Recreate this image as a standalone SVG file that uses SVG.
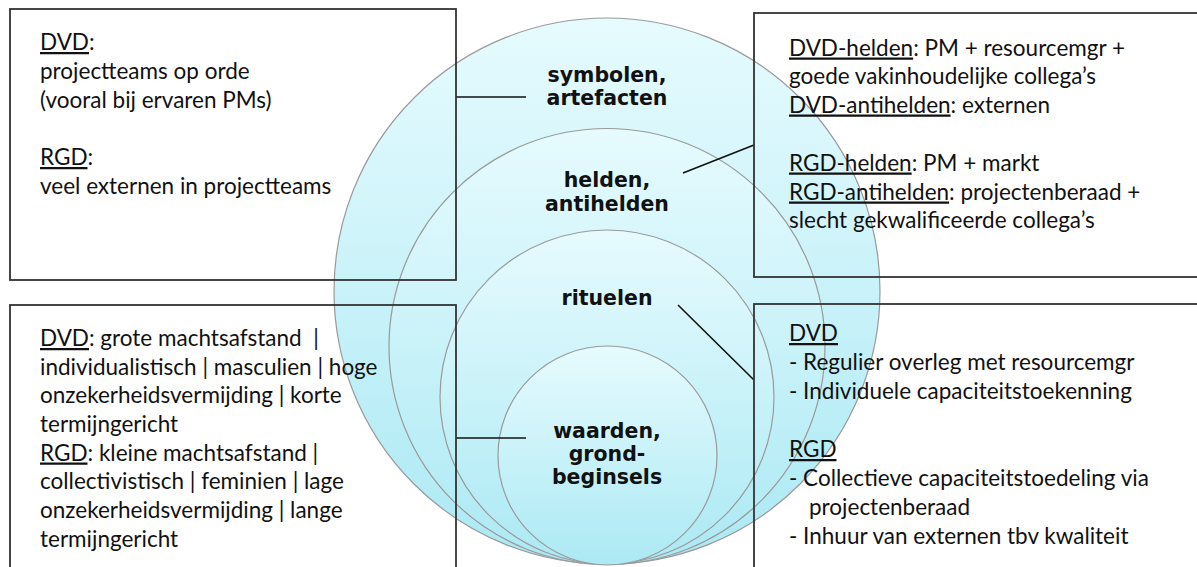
<svg xmlns="http://www.w3.org/2000/svg" width="1197" height="567" viewBox="0 0 1197 567">
<defs>
<linearGradient id="cg" x1="0" y1="0" x2="0" y2="1">
<stop offset="0" stop-color="#e6fbfe"/>
<stop offset="1" stop-color="#ace9f4"/>
</linearGradient>
<style>
.circ{fill:url(#cg);stroke:#9a9a9a;stroke-width:1.2}
.box{fill:none;stroke:#333;stroke-width:1.8}
.lbl{font-family:"DejaVu Sans",sans-serif;font-weight:bold;font-size:20.5px;fill:#111;text-anchor:middle}
.txt{font-family:Lato,"Liberation Sans",sans-serif;font-size:22.5px;fill:#111;white-space:pre}
.u{text-decoration:underline}
.conn line{stroke:#111;stroke-width:1.6}
</style>
</defs>
<rect width="1197" height="567" fill="#fff"/>
<g id="circles">
<circle class="circ" cx="607" cy="291" r="273"/>
<circle class="circ" cx="607" cy="346.5" r="218"/>
<circle class="circ" cx="607" cy="397" r="167"/>
<circle class="circ" cx="607.5" cy="455.5" r="109.5"/>
</g>
<g id="lbl-symbolen"><text class="lbl" x="607" y="82">symbolen,</text><text class="lbl" x="607" y="105">artefacten</text></g>
<g id="lbl-helden"><text class="lbl" x="607" y="187">helden,</text><text class="lbl" x="607" y="211">antihelden</text></g>
<g id="lbl-rituelen"><text class="lbl" x="607" y="305">rituelen</text></g>
<g id="lbl-waarden"><text class="lbl" x="607" y="438">waarden,</text><text class="lbl" x="607" y="461">grond-</text><text class="lbl" x="607" y="484">beginsels</text></g>
<g class="conn" id="connectors">
<line x1="456" y1="97" x2="526" y2="97"/>
<line x1="683" y1="173" x2="754" y2="145"/>
<line x1="678" y1="305" x2="754" y2="380"/>
<line x1="456" y1="438" x2="526" y2="438"/>
</g>
<g id="box-tl">
<rect class="box" x="10" y="9" width="446" height="271"/>
<text class="txt" x="40" y="50"><tspan class="u">DVD</tspan>:</text>
<text class="txt" x="40" y="79">projectteams op orde</text>
<text class="txt" x="40" y="107.5">(vooral bij ervaren PMs)</text>
<text class="txt" x="40" y="165"><tspan class="u">RGD</tspan>:</text>
<text class="txt" x="40" y="193.5">veel externen in projectteams</text>
</g>
<g id="box-tr">
<rect class="box" x="754" y="13" width="460" height="264"/>
<text class="txt" x="789" y="55.5"><tspan class="u">DVD-helden</tspan>: PM + resourcemgr +</text>
<text class="txt" x="789" y="84">goede vakinhoudelijke collega’s</text>
<text class="txt" x="789" y="112.5"><tspan class="u">DVD-antihelden</tspan>: externen</text>
<text class="txt" x="789" y="170.5"><tspan class="u">RGD-helden</tspan>: PM + markt</text>
<text class="txt" x="789" y="199.5"><tspan class="u">RGD-antihelden</tspan>: projectenberaad +</text>
<text class="txt" x="789" y="228">slecht gekwalificeerde collega’s</text>
</g>
<g id="box-bl">
<rect class="box" x="10" y="305" width="446" height="280"/>
<text class="txt" x="40" y="346"><tspan class="u">DVD</tspan>: grote machtsafstand  |</text>
<text class="txt" x="40" y="374.5">individualistisch | masculien | hoge</text>
<text class="txt" x="40" y="403">onzekerheidsvermijding | korte</text>
<text class="txt" x="40" y="431.5">termijngericht</text>
<text class="txt" x="40" y="460.5"><tspan class="u">RGD</tspan>: kleine machtsafstand |</text>
<text class="txt" x="40" y="489">collectivistisch | feminien | lage</text>
<text class="txt" x="40" y="518">onzekerheidsvermijding | lange</text>
<text class="txt" x="40" y="546.5">termijngericht</text>
</g>
<g id="box-br">
<rect class="box" x="754" y="304" width="460" height="280"/>
<text class="txt" x="789" y="341"><tspan class="u">DVD</tspan></text>
<text class="txt" x="789" y="370">- Regulier overleg met resourcemgr</text>
<text class="txt" x="789" y="398.5">- Individuele capaciteitstoekenning</text>
<text class="txt" x="789" y="457"><tspan class="u">RGD</tspan></text>
<text class="txt" x="789" y="486">- Collectieve capaciteitstoedeling via</text>
<text class="txt" x="809" y="514.5">projectenberaad</text>
<text class="txt" x="789" y="543.5">- Inhuur van externen tbv kwaliteit</text>
</g>
</svg>
